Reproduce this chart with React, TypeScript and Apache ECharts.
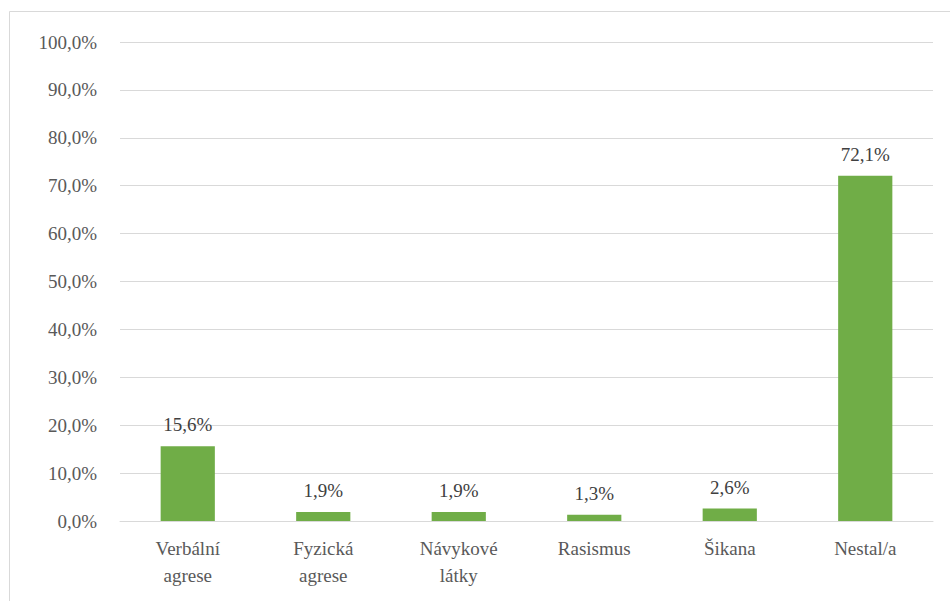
import React, { useEffect, useRef } from "react";
import * as echarts from "echarts";

const categories = ["Verbální\nagrese", "Fyzická\nagrese", "Návykové\nlátky", "Rasismus", "Šikana", "Nestal/a"];
const values = [15.6, 1.9, 1.9, 1.3, 2.6, 72.1];

const FONT = "Times New Roman, Liberation Serif, DejaVu Serif, serif";
const fmt = (v: number) => v.toFixed(1).replace(".", ",") + "%";

export default function App() {
  const ref = useRef<HTMLDivElement>(null);
  useEffect(() => {
    const chart = echarts.init(ref.current!, null, { renderer: "svg" });
    chart.setOption({
      animation: false,
      backgroundColor: "#ffffff",
      textStyle: { fontFamily: FONT },
      graphic: [
        {
          type: "rect",
          shape: { x: 9.5, y: 11.5, width: 960, height: 620 },
          style: { fill: "none", stroke: "#d9d9d9", lineWidth: 1 },
          silent: true,
        },
      ],
      grid: { left: 120, right: 17, top: 42, bottom: 80 },
      xAxis: {
        type: "category",
        data: categories,
        axisLine: { lineStyle: { color: "#d9d9d9", width: 1 } },
        axisTick: { show: false },
        axisLabel: {
          color: "#595959",
          fontFamily: FONT,
          fontSize: 19,
          lineHeight: 27,
          margin: 14,
          interval: 0,
        },
      },
      yAxis: {
        type: "value",
        min: 0,
        max: 100,
        interval: 10,
        axisLine: { show: false },
        axisTick: { show: false },
        splitLine: { lineStyle: { color: "#d9d9d9", width: 1 } },
        axisLabel: {
          color: "#595959",
          fontFamily: FONT,
          fontSize: 19,
          margin: 23,
          formatter: (v: number) => fmt(v),
        },
      },
      series: [
        {
          type: "bar",
          data: values,
          barWidth: "40%",
          itemStyle: { color: "#70ad47" },
          label: {
            show: true,
            position: "top",
            distance: 12,
            color: "#404040",
            fontFamily: FONT,
            fontSize: 19,
            formatter: (p: any) => fmt(p.value),
          },
        },
      ],
    });
    return () => chart.dispose();
  }, []);
  return (
    <div
      ref={ref}
      style={{ position: "fixed", left: 0, top: 0, width: 950, height: 601 }}
    />
  );
}
